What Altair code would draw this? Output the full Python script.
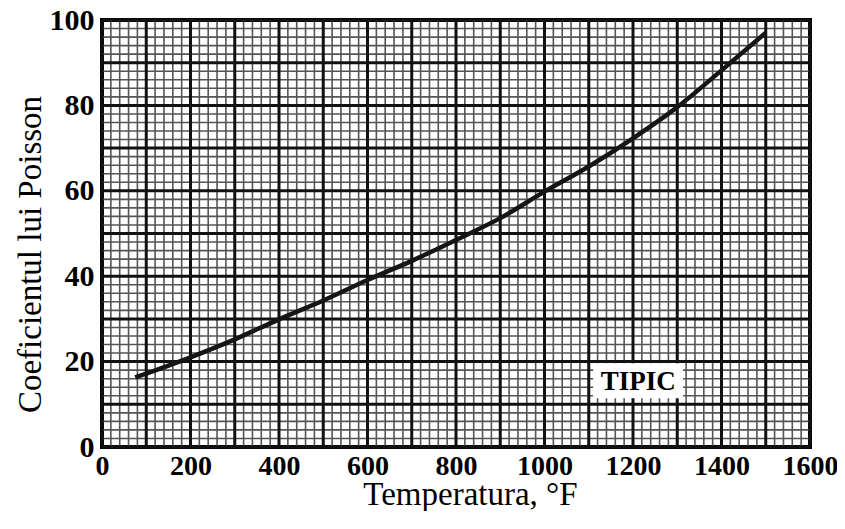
import altair as alt
import pandas as pd

# Curve data
temps = [75, 100, 200, 300, 400, 500, 600, 700, 800, 900, 1000, 1100, 1200, 1300, 1400, 1500]
poisson = [16.3, 17.2, 21.0, 25.2, 29.9, 34.3, 39.1, 43.6, 48.5, 53.6, 59.8, 65.7, 72.3, 79.6, 88.2, 97.0]

# Axis ticks
x_ticks = [0, 200, 400, 600, 800, 1000, 1200, 1400, 1600]
y_ticks = [0, 20, 40, 60, 80, 100]

# Graph-paper grid positions
x_major = list(range(0, 1601, 100))
x_minor = [v for v in range(0, 1601, 20) if v % 100 != 0]
y_major = list(range(0, 101, 10))
y_minor = [v for v in range(0, 101, 2) if v % 10 != 0]

# Annotation
label_text = ["TIPIC"]
label_x = [1212]
label_y = [15.3]
box_x1, box_x2 = [1110], [1313]
box_y1, box_y2 = [11.4], [19.6]

FONT = "Liberation Serif"

xs = alt.Scale(domain=[0, 1600], nice=False, zero=False)
ys = alt.Scale(domain=[0, 100], nice=False, zero=False)

curve_df = pd.DataFrame({"T": temps, "P": poisson})

base_x_axis = alt.Axis(
    values=x_ticks, format="d", labelOverlap=False, labelFlush=False, grid=False, domain=False,
    ticks=False, tickSize=0,
    labelFont=FONT, labelFontSize=28, labelFontWeight="bold", labelColor="black", labelPadding=5,
    title="Temperatura, °F", titleFont=FONT, titleFontSize=33, titleFontWeight="normal",
    titleColor="black", titleX=368, titleY=57, titleBaseline="alphabetic", titleAlign="center",
)
base_y_axis = alt.Axis(
    values=y_ticks, format="d", labelOverlap=False, labelFlush=False, grid=False, domain=False,
    ticks=False, tickSize=0,
    labelFont=FONT, labelFontSize=30, labelFontWeight="bold", labelColor="black", labelPadding=8,
    title="Coeficientul lui Poisson", titleFont=FONT, titleFontSize=33, titleFontWeight="normal",
    titleColor="black", titleX=-72, titleY=234, titleAngle=270,
    titleBaseline="middle", titleAlign="center",
)

vminor = alt.Chart(pd.DataFrame({"v": x_minor})).mark_rule(color="#555", strokeWidth=1.6).encode(
    x=alt.X("v:Q", scale=xs, axis=base_x_axis))
hminor = alt.Chart(pd.DataFrame({"v": y_minor})).mark_rule(color="#555", strokeWidth=1.6).encode(
    y=alt.Y("v:Q", scale=ys, axis=base_y_axis))
vmajor = alt.Chart(pd.DataFrame({"v": x_major})).mark_rule(color="#111", strokeWidth=3).encode(
    x=alt.X("v:Q", scale=xs))
hmajor = alt.Chart(pd.DataFrame({"v": y_major})).mark_rule(color="#111", strokeWidth=3).encode(
    y=alt.Y("v:Q", scale=ys))

curve = alt.Chart(curve_df).mark_line(color="#151515", strokeWidth=4.5, interpolate="monotone").encode(
    x=alt.X("T:Q", scale=xs), y=alt.Y("P:Q", scale=ys))

box = alt.Chart(pd.DataFrame({"x1": box_x1, "x2": box_x2, "y1": box_y1, "y2": box_y2})).mark_rect(
    fill="white").encode(
    x=alt.X("x1:Q", scale=xs), x2="x2:Q", y=alt.Y("y1:Q", scale=ys), y2="y2:Q")

label = alt.Chart(pd.DataFrame({"t": label_text, "x": label_x, "y": label_y})).mark_text(
    font=FONT, fontSize=27, fontWeight="bold", color="black", baseline="middle", align="center").encode(
    x=alt.X("x:Q", scale=xs), y=alt.Y("y:Q", scale=ys), text="t:N")

chart = alt.layer(vminor, hminor, vmajor, hmajor, curve, box, label).properties(
    width=708, height=427,
    autosize=alt.AutoSizeParams(type="none"),
    padding={"left": 94, "top": 12, "right": 27, "bottom": 64},
    background="white",
).configure_view(stroke="black", strokeWidth=4)

chart.save("out.html", embed_options={"renderer": "svg", "actions": False})
